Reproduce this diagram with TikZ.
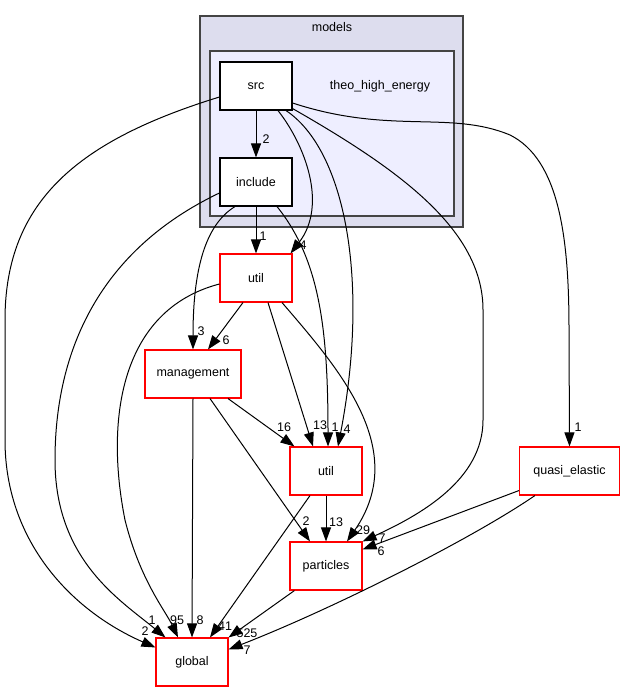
\documentclass[tikz,border=0pt]{standalone}
\usepackage{fontspec}
\setmainfont{Liberation Sans}
\usetikzlibrary{arrows.meta,shapes}
\newcommand{\boxw}{72pt}
\newcommand{\boxh}{48pt}
\definecolor{clouter}{HTML}{DDDDEE}
\definecolor{clinner}{HTML}{EEEEFF}
\definecolor{clline}{HTML}{444444}

\begin{document}
\begin{tikzpicture}[x=1pt,y=-1pt]
            \tikzset{dir/.style = {rectangle, draw=black, fill=white, line width=1.1pt,
                       minimum width=\boxw, minimum height=\boxh, inner sep=0pt,
                       font=\fontsize{12.5}{14}\selectfont}}
            \tikzset{ext/.style = {dir, draw=red}}
            \tikzset{dep/.style = {-{Triangle[length=14pt,width=10pt]}, line width=1pt}}
            \tikzset{lbl/.style = {inner sep=0pt, font=\fontsize{12.5}{14}\selectfont}}
            \useasboundingbox (0,0) rectangle (624,692);

            \draw[clline, fill=clouter, line width=1.1pt] (200,16) rectangle (463,227);
            \node[lbl] (models) at (332,27) {models};
            \draw[clline, fill=clinner, line width=1.1pt] (210,51) rectangle (454,216);
            \node[lbl] (theo) at (380,86) {theo\_high\_energy};

            \node[dir] (src) at (256,86) {src};
            \node[dir] (inc) at (256,182) {include};
            \node[ext] (utila) at (256,278) {util};
            \node[ext, minimum width=96pt] (mgmt) at (193,374) {management};
            \node[ext] (utilb) at (326,471) {util};
            \node[ext] (part) at (326,566) {particles};
            \node[ext] (glob) at (192,662) {global};
            \node[ext, minimum width=100pt] (quasi) at (569.5,471) {quasi\_elastic};

            \draw[dep] (src.south) -- (inc.north) node[lbl] at (266,139) {2};
            \draw[dep] ([xshift=22pt]src.south) .. controls (305,145) and (328,205) .. ([xshift=-2pt]utila.north east) node[lbl] at (303,245) {4};
            \draw[dep] ([xshift=30pt]src.south) .. controls (345,150) and (370,280) .. ([xshift=12pt]utilb.north) node[lbl] at (347,429) {4};
            \draw[dep] ([yshift=2pt]src.south east) .. controls (400,170) and (483,230) .. (483,310) -- (483,420) .. controls (483,480) and (420,515) .. (part.north east) node[lbl] at (382,538) {7};
            \draw[dep] ([yshift=-17pt]src.east) .. controls (390,135) and (450,110) .. (510,135) .. controls (560,160) and (569,240) .. (569,330) -- (quasi.north) node[lbl] at (578,427) {1};
            \draw[dep] ([yshift=-11pt]src.west) .. controls (80,140) and (5,200) .. (5,320) -- (5,440) .. controls (5,540) and (70,610) .. ([yshift=-10pt]glob.north west) node[lbl] at (145,631) {2};

            \draw[dep] ([yshift=-11pt]inc.west) .. controls (100,250) and (55,350) .. (55,460) .. controls (55,560) and (120,600) .. ([xshift=10pt]glob.north west) node[lbl] at (152,620) {1};
            \draw[dep] (inc.south) -- (utila.north) node[lbl] at (263,236) {1};
            \draw[dep] ([xshift=-21pt]inc.south) .. controls (205,225) and (193,270) .. (mgmt.north) node[lbl] at (201,331) {3};
            \draw[dep] ([xshift=21pt]inc.south) .. controls (320,260) and (328,330) .. ([xshift=2pt]utilb.north) node[lbl] at (335,427) {1};

            \draw[dep] ([xshift=-13pt]utila.south) -- ([xshift=15pt]mgmt.north) node[lbl] at (226,340) {6};
            \draw[dep] ([yshift=-6pt]utila.west) .. controls (120,310) and (105,420) .. (125,520) .. controls (140,580) and (165,610) .. ([xshift=-14pt]glob.north) node[lbl] at (177,620) {95};
            \draw[dep] ([xshift=12pt]utila.south) -- ([xshift=-13pt]utilb.north) node[lbl] at (320,425) {13};
            \draw[dep] ([xshift=26pt]utila.south) .. controls (340,370) and (410,450) .. ([xshift=21pt]part.north) node[lbl] at (363,530) {29};

            \draw[dep] ([xshift=35pt]mgmt.south) -- ([xshift=5pt]utilb.north west) node[lbl] at (284,427) {16};
            \draw[dep] ([xshift=17pt]mgmt.south) -- ([xshift=-16pt]part.north) node[lbl] at (306,521) {2};
            \draw[dep] (mgmt.south) -- (glob.north) node[lbl] at (200,620) {8};

            \draw[dep] (utilb.south) -- (part.north) node[lbl] at (336,522) {13};
            \draw[dep] ([xshift=-16pt]utilb.south) -- ([xshift=18pt]glob.north) node[lbl] at (225,626) {41};
            \draw[dep] ([xshift=5pt]part.south west) -- (glob.north east) node[lbl] at (247,633) {525};

            \draw[dep] ([yshift=5pt]quasi.south west) -- ([yshift=-8pt]part.north east) node[lbl] at (381,551) {6};
            \draw[dep] ([xshift=16pt]quasi.south west) .. controls (470,540) and (330,610) .. ([yshift=-12pt]glob.north east) node[lbl] at (247,650) {7};
        \end{tikzpicture}
\end{document}
